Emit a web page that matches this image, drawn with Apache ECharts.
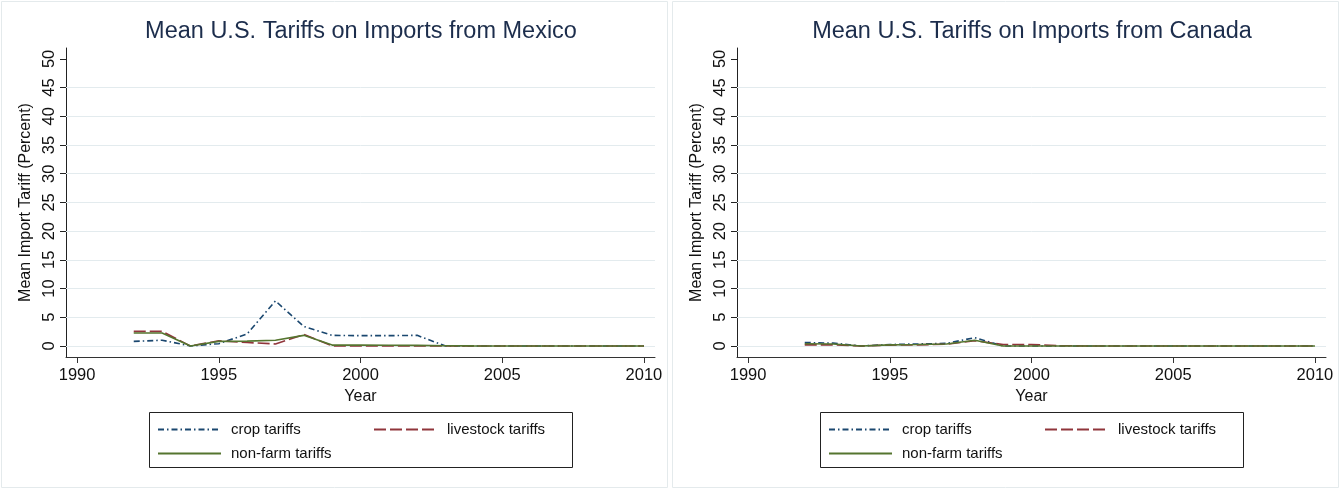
<!DOCTYPE html>
<html>
<head>
<meta charset="utf-8">
<script src="https://cdn.jsdelivr.net/npm/echarts@6/dist/echarts.min.js"></script>
<style>
  html, body { margin: 0; padding: 0; background: #fff; }
  #wrap { width: 1342px; height: 490px; display: flex; }
  .panel { width: 671px; height: 490px; }
</style>
</head>
<body>
<div id="wrap">
  <div id="mexico" class="panel"></div>
  <div id="canada" class="panel"></div>
</div>
<script>
// Years covered by the tariff series
const years = [1992, 1993, 1994, 1995, 1996, 1997, 1998, 1999, 2000, 2001,
               2002, 2003, 2004, 2005, 2006, 2007, 2008, 2009, 2010];

// Mean U.S. tariffs (percent) on imports from Mexico
const mexicoCrop      = [0.8, 1.0, 0, 0.4, 2.1, 7.85, 3.4, 1.85, 1.8, 1.8, 1.85, 0, 0, 0, 0, 0, 0, 0, 0];
const mexicoLivestock = [2.55, 2.55, 0, 0.9, 0.6, 0.35, 2.0, 0, 0, 0, 0, 0, 0, 0, 0, 0, 0, 0, 0];
const mexicoNonfarm   = [2.25, 2.25, 0, 0.8, 0.85, 1.0, 1.85, 0.15, 0.15, 0.12, 0.1, 0.05, 0.02, 0, 0, 0, 0, 0, 0];

// Mean U.S. tariffs (percent) on imports from Canada
const canadaCrop      = [0.6, 0.5, 0, 0.25, 0.35, 0.45, 1.45, 0, 0, 0, 0, 0, 0, 0, 0, 0, 0, 0, 0];
const canadaLivestock = [0.2, 0.2, 0, 0.15, 0.2, 0.3, 0.9, 0.25, 0.25, 0.05, 0, 0, 0, 0, 0, 0, 0, 0, 0];
const canadaNonfarm   = [0.4, 0.35, 0, 0.2, 0.25, 0.35, 1.0, 0, 0, 0, 0, 0, 0, 0, 0, 0, 0, 0, 0];

// Axis ticks
const xTicks = [1990, 1995, 2000, 2005, 2010];
const yTicks = [0, 5, 10, 15, 20, 25, 30, 35, 40, 45, 50];
const gridLevels = [0, 5, 10, 15, 20, 25, 30, 35, 40, 45];

const seriesNames = ['crop tariffs', 'livestock tariffs', 'non-farm tariffs'];
const titles = ['Mean U.S. Tariffs on Imports from Mexico', 'Mean U.S. Tariffs on Imports from Canada'];

const FONT = 'Liberation Sans, Arial, Helvetica, sans-serif';
const NAVY = '#1a476f', MAROON = '#90353b', GREEN = '#55752f';

function pairs(vals) {
  return years.map((y, i) => [y, vals[i]]);
}

// One legend entry placed in a two-column key
function legendEntry(name, left, top) {
  return {
    data: [name], left: left, top: top,
    padding: 0, itemWidth: 63, itemHeight: 14,
    itemStyle: { opacity: 0 },
    formatter: '{a|{name}}',
    textStyle: {
      fontFamily: FONT, fontSize: 15, color: '#111',
      rich: { a: { fontFamily: FONT, fontSize: 15, color: '#111', padding: [0, 0, 0, 5] } }
    }
  };
}

function buildOption(title, crop, livestock, nonfarm) {
  const gridLeft = 66, gridTop = 48, gridW = 589, gridH = 309;
  return {
    animation: false,
    backgroundColor: '#fff',
    textStyle: { fontFamily: FONT },
    graphic: [
      { type: 'rect', shape: { x: 1.5, y: 1.5, width: 666, height: 486 },
        style: { fill: 'none', stroke: '#e4eaec', lineWidth: 1 }, silent: true },
      { type: 'rect', shape: { x: 149.5, y: 412.5, width: 423, height: 55 },
        style: { fill: '#fff', stroke: '#222', lineWidth: 1 }, silent: true, z: -1 },
      { type: 'text', x: 361, y: 32,
        style: { text: title, fontFamily: FONT, fontSize: 23.5, fill: '#1c2d4c',
                 textAlign: 'center', textVerticalAlign: 'middle' } }
    ],
    grid: { left: gridLeft, top: gridTop, width: gridW, height: gridH, containLabel: false },
    legend: [
      legendEntry(seriesNames[0], 157, 422),
      legendEntry(seriesNames[1], 373, 422),
      legendEntry(seriesNames[2], 157, 446)
    ],
    xAxis: {
      type: 'value', min: 1989.61, max: 2010.39,
      name: 'Year', nameLocation: 'middle', nameGap: 27,
      nameTextStyle: { fontFamily: FONT, fontSize: 16, color: '#111' },
      axisLine: { show: true, onZero: false, lineStyle: { color: '#333', width: 1 } },
      axisTick: { show: true, length: 6, customValues: xTicks, lineStyle: { color: '#333' } },
      axisLabel: { customValues: xTicks, margin: 10, fontSize: 16.5, color: '#111', fontFamily: FONT,
                   formatter: v => String(v) },
      splitLine: { show: false }
    },
    yAxis: {
      type: 'value', min: -1.92, max: 51.9,
      name: 'Mean Import Tariff (Percent)', nameLocation: 'middle', nameGap: 26,
      nameTextStyle: { fontFamily: FONT, fontSize: 16, color: '#111' },
      axisLine: { show: true, onZero: false, lineStyle: { color: '#222', width: 1 } },
      axisTick: { show: true, length: 6, customValues: yTicks, lineStyle: { color: '#222' } },
      axisLabel: { customValues: yTicks, rotate: 90, margin: 8, fontSize: 16.5, color: '#111', fontFamily: FONT,
                   formatter: v => String(v) },
      splitLine: { show: false }
    },
    series: [
      {
        name: seriesNames[0], type: 'line', data: pairs(crop), symbol: 'none', z: 3,
        lineStyle: { color: NAVY, width: 1.6, type: [6, 3, 1.5, 3] },
        itemStyle: { color: NAVY },
        markLine: {
          silent: true, symbol: 'none', z: 1, animation: false,
          label: { show: false },
          lineStyle: { color: '#e3ebee', width: 1, type: 'solid' },
          data: gridLevels.map(v => ({ yAxis: v }))
        }
      },
      {
        name: seriesNames[1], type: 'line', data: pairs(livestock), symbol: 'none', z: 3,
        lineStyle: { color: MAROON, width: 1.6, type: [12, 4] },
        itemStyle: { color: MAROON }
      },
      {
        name: seriesNames[2], type: 'line', data: pairs(nonfarm), symbol: 'none', z: 4,
        lineStyle: { color: GREEN, width: 1.6, type: 'solid' },
        itemStyle: { color: GREEN }
      }
    ]
  };
}

const mx = echarts.init(document.getElementById('mexico'), null, { renderer: 'canvas' });
mx.setOption(buildOption(titles[0], mexicoCrop, mexicoLivestock, mexicoNonfarm));
const ca = echarts.init(document.getElementById('canada'), null, { renderer: 'canvas' });
ca.setOption(buildOption(titles[1], canadaCrop, canadaLivestock, canadaNonfarm));
</script>
</body>
</html>
